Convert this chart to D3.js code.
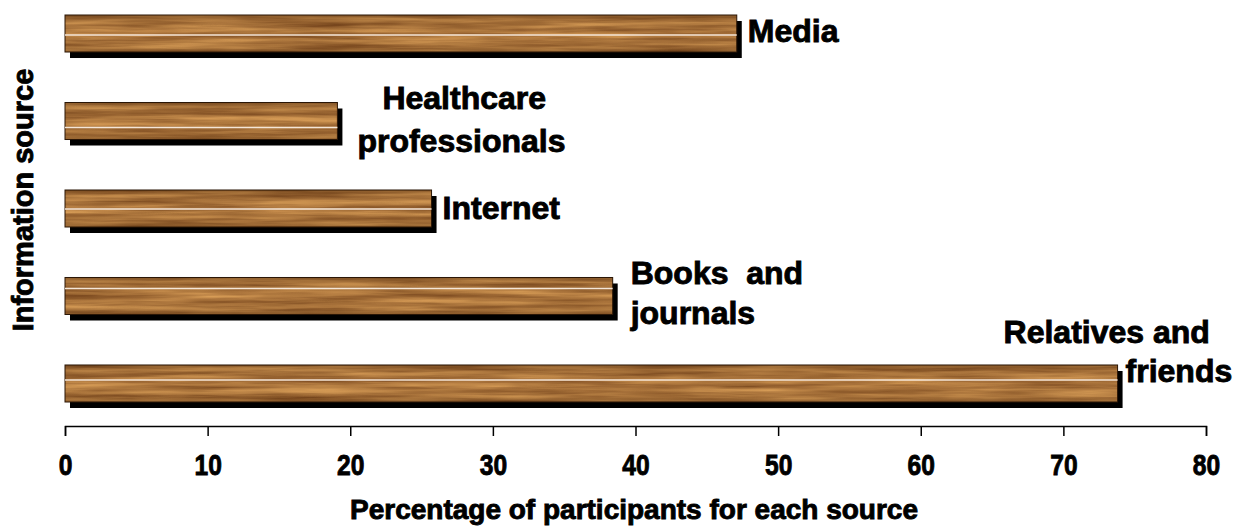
<!DOCTYPE html>
<html>
<head>
<meta charset="utf-8">
<script src="https://cdn.jsdelivr.net/npm/d3@7/dist/d3.min.js"></script>
<style>
  html, body { margin: 0; padding: 0; background: #ffffff; }
  svg { display: block; }
  text { font-family: "Liberation Sans", Arial, Helvetica, sans-serif; font-weight: bold; fill: #000; stroke: #000; stroke-width: 0.9px; white-space: pre; }
</style>
</head>
<body>
<svg id="chart" width="1239" height="527"></svg>
<script>
// ---- data ----
const categories = ["Media", "Healthcare professionals", "Internet", "Books and journals", "Relatives and friends"];
const values = [47.1, 19.1, 25.7, 38.4, 73.8];
const labelLines = [["Media"], ["Healthcare", "professionals"], ["Internet"], ["Books  and", "journals"], ["Relatives and", "friends"]];
const xTicks = [0, 10, 20, 30, 40, 50, 60, 70, 80];
const xTitle = "Percentage of participants for each source";
const yTitle = "Information source";

// ---- layout (positions, not data) ----
const labelPos = [
  [{dx: 11, dy: 27}],
  [{dx: 45, dy: 7}, {dx: 20, dy: 50}],
  [{dx: 11, dy: 29}],
  [{dx: 18, dy: 7}, {dx: 18, dy: 47}],
  [{dx: -114, dy: -22}, {dx: 8, dy: 17}]
];
const whiteLineOffset = [20, 25, 19, 11, 15];

const svg = d3.select("#chart");
const x = d3.scaleLinear().domain([0, 80]).range([65, 1206]);
const y = d3.scaleBand().domain(categories).range([15, 402]).paddingInner(0.577).paddingOuter(0);

const defs = svg.append("defs");
const f = defs.append("filter").attr("id", "wood")
  .attr("filterUnits", "objectBoundingBox").attr("x", 0).attr("y", 0).attr("width", 1).attr("height", 1)
  .attr("color-interpolation-filters", "sRGB");
f.append("feTurbulence").attr("type", "fractalNoise").attr("baseFrequency", "0.008 0.18")
  .attr("numOctaves", 4).attr("seed", 11).attr("result", "noise");
f.append("feColorMatrix").attr("in", "noise").attr("type", "matrix")
  .attr("values", "0.5 0 0 0 0.43  0.45 0 0 0 0.24  0.3 0 0 0 0.09  0 0 0 0 1").attr("result", "col");
f.append("feComposite").attr("in", "col").attr("in2", "SourceGraphic").attr("operator", "in");

const g = defs.append("linearGradient").attr("id", "shade").attr("x1", 0).attr("y1", 0).attr("x2", 0).attr("y2", 1);
[[0, 0.4], [0.14, 0.1], [0.5, 0], [0.86, 0.08], [1, 0.35]].forEach(([o, a]) =>
  g.append("stop").attr("offset", o).attr("stop-color", "#4a2608").attr("stop-opacity", a));

const bars = svg.append("g").selectAll("g").data(categories).join("g");
// shadow
bars.append("rect")
  .attr("x", x(0) + 5).attr("y", d => y(d) + 6)
  .attr("width", (d, i) => x(values[i]) - x(0)).attr("height", y.bandwidth())
  .attr("fill", "#000");
// wood
bars.append("rect")
  .attr("x", x(0)).attr("y", d => y(d))
  .attr("width", (d, i) => x(values[i]) - x(0)).attr("height", y.bandwidth())
  .attr("fill", "#000").attr("filter", "url(#wood)");
bars.append("rect")
  .attr("x", x(0)).attr("y", d => y(d))
  .attr("width", (d, i) => x(values[i]) - x(0)).attr("height", y.bandwidth())
  .attr("fill", "url(#shade)").attr("stroke", "#2a1606").attr("stroke-width", 1);
// white line
bars.append("line")
  .attr("x1", x(0)).attr("x2", (d, i) => x(values[i]))
  .attr("y1", (d, i) => y(d) + whiteLineOffset[i]).attr("y2", (d, i) => y(d) + whiteLineOffset[i])
  .attr("stroke", "#f4e6d8").attr("stroke-width", 1.5);

// labels
bars.each(function(d, i) {
  const sel = d3.select(this);
  labelLines[i].forEach((t, j) => {
    sel.append("text")
      .attr("x", x(values[i]) + labelPos[i][j].dx)
      .attr("y", y(d) + labelPos[i][j].dy)
      .attr("font-size", 32)
      .text(t);
  });
});

// x axis
const axis = d3.axisBottom(x).tickValues(xTicks).tickSize(10).tickPadding(26).tickSizeOuter(10);
const ax = svg.append("g").attr("transform", "translate(0,426)").call(axis);
ax.select(".domain").attr("stroke", "#000").attr("stroke-width", 1.5);
ax.selectAll(".tick line").attr("stroke", "#000").attr("stroke-width", 1.5);
ax.selectAll(".tick text")
  .attr("font-size", 30).attr("font-family", "Liberation Sans, Arial, sans-serif")
  .attr("font-weight", "bold").attr("fill", "#000")
  .attr("y", 28)
  .attr("transform", "scale(0.82,1)");

svg.append("text").attr("x", 634).attr("y", 519).attr("text-anchor", "middle")
  .attr("font-size", 28).text(xTitle);
svg.append("text").attr("transform", "translate(33,200) rotate(-90)").attr("text-anchor", "middle")
  .attr("font-size", 29).text(yTitle);
</script>
</body>
</html>
